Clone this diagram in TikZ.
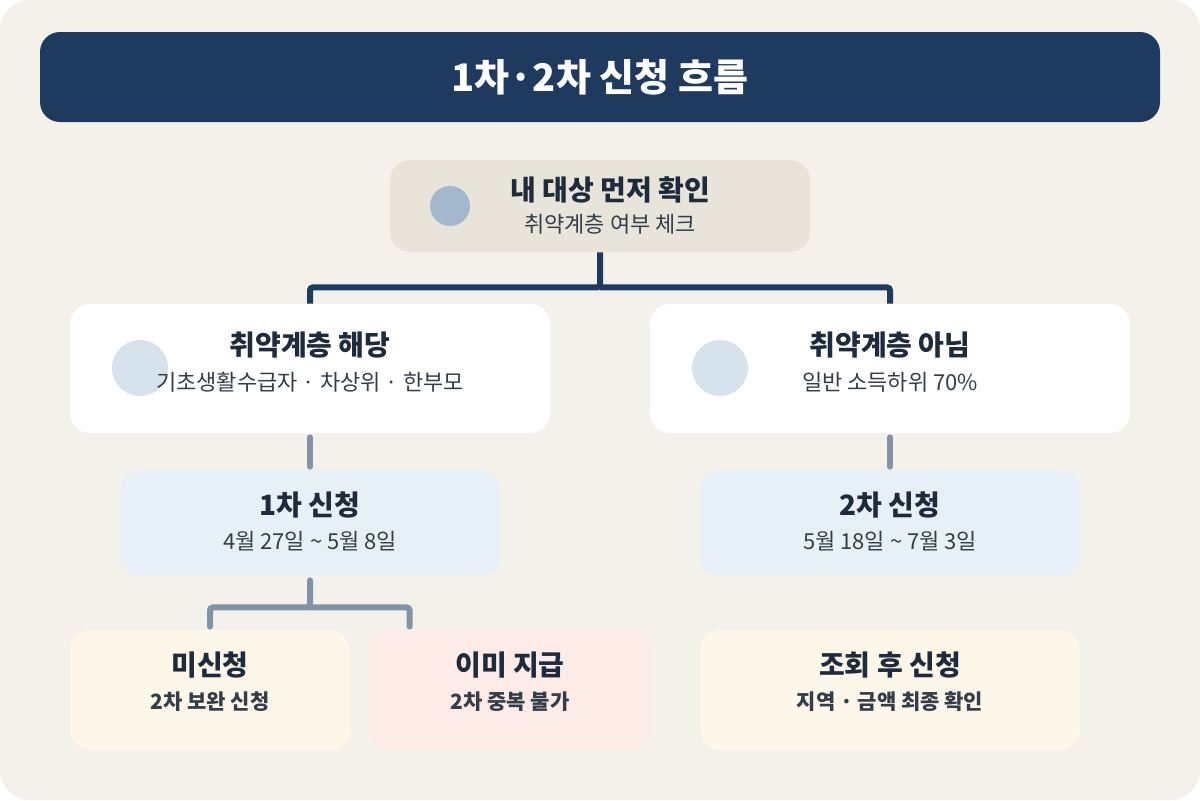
\documentclass[tikz,border=0pt]{standalone}
\usepackage{fontspec}
\setmainfont{Noto Sans CJK KR}
\newfontfamily\medfont{Noto Sans CJK KR Medium}
\usepackage{tikz}
\definecolor{paper}{HTML}{F4F1EA}
\definecolor{bannerblue}{HTML}{1F3A5F}
\definecolor{sand}{HTML}{E8E4D9}
\definecolor{dotblue}{HTML}{A3B8CC}
\definecolor{dotpale}{HTML}{D6E3EC}
\definecolor{skyfill}{HTML}{E8F0F7}
\definecolor{linkgray}{HTML}{8093A8}
\definecolor{cream}{HTML}{FDF7EA}
\definecolor{blush}{HTML}{FCEBE7}
\definecolor{ink}{HTML}{1E2B3C}
\definecolor{inksoft}{HTML}{343D4A}

\begin{document}
\begin{tikzpicture}[x=0.5pt,y=-0.5pt,
  card/.style={rectangle, rounded corners=10pt, inner sep=0pt},
  head/.style={font=\fontsize{14}{16}\selectfont\bfseries, text=ink},
  note/.style={font=\fontsize{11}{13}\selectfont, text=inksoft},
  notebold/.style={font=\fontsize{10.5}{12}\selectfont\bfseries, text=inksoft},
  dot/.style={circle, inner sep=0pt},
  trunk/.style={draw=bannerblue, line width=3pt, rounded corners=1.5pt},
  branch/.style={draw=linkgray, line width=3pt, line cap=round, rounded corners=1.5pt}]
  \fill[white] (0,0) rectangle (1200,800);
  \fill[paper, rounded corners=15pt] (0,0) rectangle (1200,800);

  \node[card, fill=bannerblue, minimum width=560pt, minimum height=45pt,
    text=white, font=\fontsize{19}{21}\selectfont\bfseries] (banner) at (600,77) {1차·2차 신청 흐름};

  % boxes
  \node[card, fill=sand, minimum width=210pt, minimum height=46pt] (check) at (600,206) {};
  \node[card, fill=white, minimum width=240pt, minimum height=64.5pt] (weak) at (310,368.5) {};
  \node[card, fill=white, minimum width=240pt, minimum height=64.5pt] (general) at (890,368.5) {};
  \node[card, fill=skyfill, minimum width=190pt, minimum height=53pt] (first) at (310,523) {};
  \node[card, fill=skyfill, minimum width=190pt, minimum height=53pt] (second) at (890,523) {};
  \node[card, fill=cream, minimum width=140pt, minimum height=60pt] (notyet) at (210,690) {};
  \node[card, fill=blush, minimum width=140pt, minimum height=60pt] (paid) at (510,690) {};
  \node[card, fill=cream, minimum width=190pt, minimum height=60pt] (lookup) at (890,690) {};

  % links
  \coordinate (fork) at ([yshift=-17.5pt]check.south);
  \draw[trunk] (check.south) -- (fork) -| (weak.north);
  \draw[trunk] (fork) -| (general.north);
  \draw[branch] ([yshift=-2pt]weak.south) -- ([yshift=1.5pt]first.north);
  \draw[branch] ([yshift=-2pt]general.south) -- ([yshift=1.5pt]second.north);
  \coordinate (split) at ([yshift=-15.5pt]first.south);
  \coordinate (paidtop) at ([xshift=20pt,yshift=1.5pt]paid.north west);
  \draw[branch] ([yshift=-2pt]first.south) -- (split) -| ([yshift=1.5pt]notyet.north);
  \draw[branch] (split) -| (paidtop);

  \node[dot, fill=dotblue, minimum size=20pt] (checkdot) at (450,206) {};
  \node[dot, fill=dotpale, minimum size=28pt] (weakdot) at (140,368) {};
  \node[dot, fill=dotpale, minimum size=28pt] (generaldot) at (720,368) {};

  \node[head] (checkhead) at (610,190) {내 대상 먼저 확인};
  \node[note] (checknote) at (610,224) {취약계층 여부 체크};
  \node[head] (weakhead) at (310,345) {취약계층 해당};
  \node[note] (weaknote) at (310,382) {기초생활수급자 · 차상위 · 한부모};
  \node[head] (generalhead) at (890,345) {취약계층 아님};
  \node[note] (generalnote) at (890,382) {일반 소득하위 70\%};
  \node[head] (firsthead) at (310,505) {1차 신청};
  \node[note] (firstnote) at (310,541) {4월 27일 \textasciitilde{} 5월 8일};
  \node[head] (secondhead) at (890,505) {2차 신청};
  \node[note] (secondnote) at (890,541) {5월 18일 \textasciitilde{} 7월 3일};
  \node[head] (notyethead) at (210,665) {미신청};
  \node[notebold] (notyetnote) at (210,702) {2차 보완 신청};
  \node[head] (paidhead) at (510,665) {이미 지급};
  \node[notebold] (paidnote) at (510,702) {2차 중복 불가};
  \node[head] (lookuphead) at (890,665) {조회 후 신청};
  \node[notebold] (lookupnote) at (890,702) {지역 · 금액 최종 확인};
\end{tikzpicture}
\end{document}
